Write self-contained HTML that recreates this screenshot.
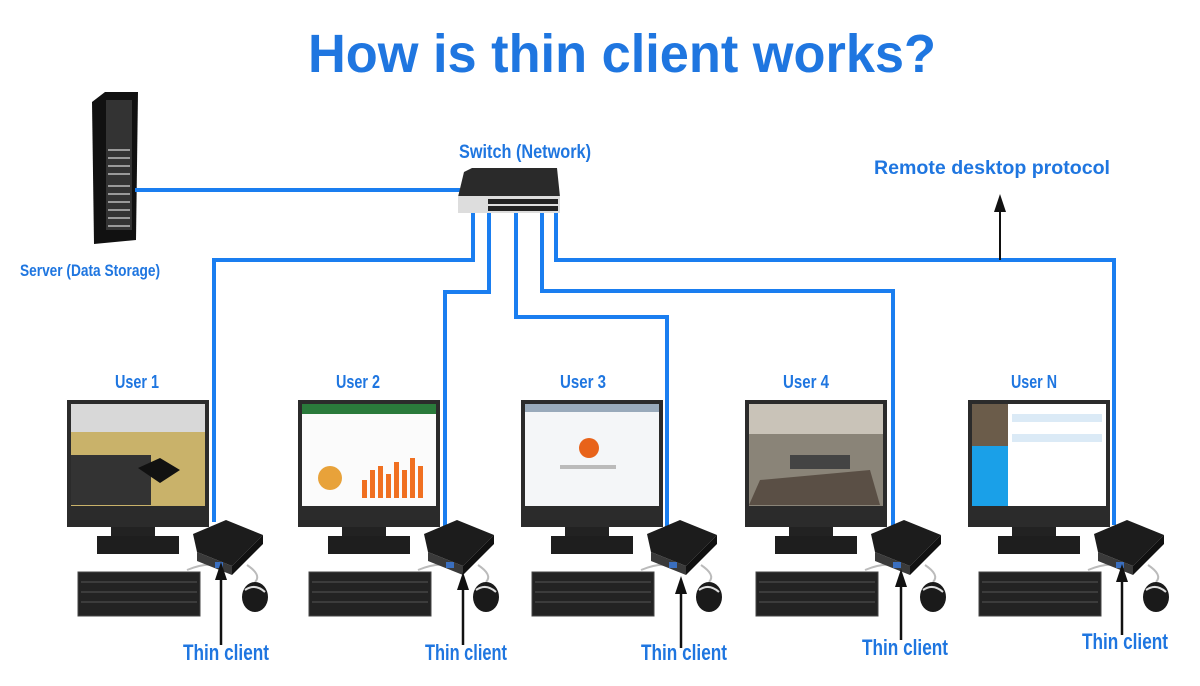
<!DOCTYPE html>
<html><head><meta charset="utf-8"><style>
html,body{margin:0;padding:0;background:#fff;}
svg{display:block;}
text{font-family:"Liberation Sans",sans-serif;}
</style></head><body>
<svg width="1200" height="686" viewBox="0 0 1200 686" xmlns="http://www.w3.org/2000/svg">
<defs>
<g id="mon">
  <rect x="0" y="400" width="142" height="127" fill="#2b2b2b"/>
  <rect x="44" y="527" width="44" height="12" fill="#222"/>
  <rect x="30" y="536" width="82" height="18" fill="#1e1e1e"/>
  <rect x="11" y="572" width="122" height="44" fill="#232323" stroke="#444"/>
  <g stroke="#555" stroke-width="1">
    <line x1="14" y1="582" x2="130" y2="582"/><line x1="14" y1="592" x2="130" y2="592"/>
    <line x1="14" y1="602" x2="130" y2="602"/>
  </g>
  <path d="M120 570 Q140 562 150 566" stroke="#bbb" stroke-width="2" fill="none"/>
  <path d="M180 565 Q195 575 188 582" stroke="#bbb" stroke-width="2" fill="none"/>
  <polygon points="126,534 159,520 196,535 165,566 130,552" fill="#1c1c1c"/>
  <polygon points="130,552 165,566 165,575 130,561" fill="#3a3a3a"/>
  <polygon points="165,566 196,535 196,544 165,575" fill="#111"/>
  <rect x="148" y="562" width="8" height="6" fill="#3a6fc0"/>
  <ellipse cx="188" cy="597" rx="13" ry="15" fill="#1a1a1a"/>
  <path d="M178 590 Q188 583 198 592" stroke="#ddd" stroke-width="2" fill="none"/>
</g>
</defs>

<text x="622" y="72" font-size="54" font-weight="bold" fill="#1f76e0" text-anchor="middle" textLength="628" lengthAdjust="spacingAndGlyphs">How is thin client works?</text>

<!-- server -->
<polygon points="92,102 105,92 138,92 136,240 94,244" fill="#111"/>
<rect x="106" y="100" width="26" height="130" fill="#333"/>
<g stroke="#999" stroke-width="2">
<line x1="108" y1="150" x2="130" y2="150"/><line x1="108" y1="158" x2="130" y2="158"/><line x1="108" y1="166" x2="130" y2="166"/><line x1="108" y1="174" x2="130" y2="174"/>
<line x1="108" y1="186" x2="130" y2="186"/><line x1="108" y1="194" x2="130" y2="194"/><line x1="108" y1="202" x2="130" y2="202"/><line x1="108" y1="210" x2="130" y2="210"/><line x1="108" y1="218" x2="130" y2="218"/><line x1="108" y1="226" x2="130" y2="226"/>
</g>
<text x="90" y="276" font-size="17" font-weight="bold" fill="#1f76e0" text-anchor="middle" textLength="140" lengthAdjust="spacingAndGlyphs">Server (Data Storage)</text>

<!-- lines -->
<g stroke="#1a7ef0" stroke-width="4" fill="none">
<polyline points="135,190 460,190"/>
<polyline points="473,212 473,260 214,260 214,522"/>
<polyline points="489,212 489,292 445,292 445,530"/>
<polyline points="516,212 516,317 667,317 667,535"/>
<polyline points="542,212 542,291 893,291 893,530"/>
<polyline points="556,212 556,260 1114,260 1114,525"/>
</g>
<line x1="1000" y1="260" x2="1000" y2="210" stroke="#111" stroke-width="2"/>
<polygon points="994,212 1000,194 1006,212" fill="#111"/>
<text x="992" y="174" font-size="19" font-weight="bold" fill="#1f76e0" text-anchor="middle" textLength="236" lengthAdjust="spacingAndGlyphs">Remote desktop protocol</text>

<!-- switch -->
<text x="525" y="158" font-size="19" font-weight="bold" fill="#1f76e0" text-anchor="middle" textLength="132" lengthAdjust="spacingAndGlyphs">Switch (Network)</text>
<polygon points="464,172 472,168 557,168 560,197 458,197" fill="#2a2a2a"/>
<rect x="458" y="196" width="102" height="17" fill="#ddd"/>
<g fill="#222">
<rect x="488" y="199" width="70" height="5"/><rect x="488" y="206" width="70" height="5"/>
</g>

<!-- users -->
<use href="#mon" x="67"/>
<use href="#mon" x="298"/>
<use href="#mon" x="521"/>
<use href="#mon" x="745"/>
<use href="#mon" x="968"/>

<!-- screens -->
<rect x="71" y="404" width="134" height="102" fill="#c9b26a"/>
<rect x="71" y="404" width="134" height="28" fill="#d8d8d8"/>
<rect x="71" y="455" width="80" height="50" fill="#333"/>
<polygon points="138,468 160,458 180,470 160,483" fill="#111"/>

<rect x="302" y="404" width="134" height="102" fill="#fbfbfb"/>
<rect x="302" y="404" width="134" height="10" fill="#2a7a3b"/>
<circle cx="330" cy="478" r="12" fill="#e8a23a"/>
<g fill="#f07021"><rect x="362" y="480" width="5" height="18"/><rect x="370" y="470" width="5" height="28"/><rect x="378" y="466" width="5" height="32"/><rect x="386" y="474" width="5" height="24"/><rect x="394" y="462" width="5" height="36"/><rect x="402" y="470" width="5" height="28"/><rect x="410" y="458" width="5" height="40"/><rect x="418" y="466" width="5" height="32"/></g>

<rect x="525" y="404" width="134" height="102" fill="#f4f6f8"/>
<rect x="525" y="404" width="134" height="8" fill="#9ab"/>
<circle cx="589" cy="448" r="10" fill="#e8631a"/>
<rect x="560" y="465" width="56" height="4" fill="#bbb"/>

<rect x="749" y="404" width="134" height="102" fill="#8a8478"/>
<rect x="749" y="404" width="134" height="30" fill="#c9c3b8"/>
<polygon points="760,480 870,470 880,505 749,505" fill="#5a4f45"/>
<rect x="790" y="455" width="60" height="14" fill="#444"/>

<rect x="972" y="404" width="134" height="102" fill="#fff"/>
<rect x="972" y="404" width="36" height="102" fill="#1aa0e8"/>
<rect x="972" y="404" width="36" height="42" fill="#6b5c4a"/>
<rect x="1012" y="414" width="90" height="8" fill="#dbeaf6"/>
<rect x="1012" y="434" width="90" height="8" fill="#dbeaf6"/>

<!-- labels -->
<g font-size="18" font-weight="bold" fill="#1f76e0" text-anchor="middle">
<text x="137" y="388" textLength="44" lengthAdjust="spacingAndGlyphs">User 1</text>
<text x="358" y="388" textLength="44" lengthAdjust="spacingAndGlyphs">User 2</text>
<text x="583" y="388" textLength="46" lengthAdjust="spacingAndGlyphs">User 3</text>
<text x="806" y="388" textLength="46" lengthAdjust="spacingAndGlyphs">User 4</text>
<text x="1034" y="388" textLength="46" lengthAdjust="spacingAndGlyphs">User N</text>
</g>

<!-- arrows -->
<g stroke="#111" stroke-width="2.5">
<line x1="221" y1="645" x2="221" y2="578"/>
<line x1="463" y1="645" x2="463" y2="588"/>
<line x1="681" y1="648" x2="681" y2="592"/>
<line x1="901" y1="640" x2="901" y2="585"/>
<line x1="1122" y1="635" x2="1122" y2="580"/>
</g>
<g fill="#111">
<polygon points="215,580 221,562 227,580"/>
<polygon points="457,590 463,572 469,590"/>
<polygon points="675,594 681,576 687,594"/>
<polygon points="895,587 901,569 907,587"/>
<polygon points="1116,582 1122,564 1128,582"/>
</g>
<g font-size="22" font-weight="bold" fill="#1f76e0">
<text x="183" y="660" textLength="86" lengthAdjust="spacingAndGlyphs">Thin client</text>
<text x="425" y="660" textLength="82" lengthAdjust="spacingAndGlyphs">Thin client</text>
<text x="641" y="660" textLength="86" lengthAdjust="spacingAndGlyphs">Thin client</text>
<text x="862" y="655" textLength="86" lengthAdjust="spacingAndGlyphs">Thin client</text>
<text x="1082" y="649" textLength="86" lengthAdjust="spacingAndGlyphs">Thin client</text>
</g>
</svg>
</body></html>
